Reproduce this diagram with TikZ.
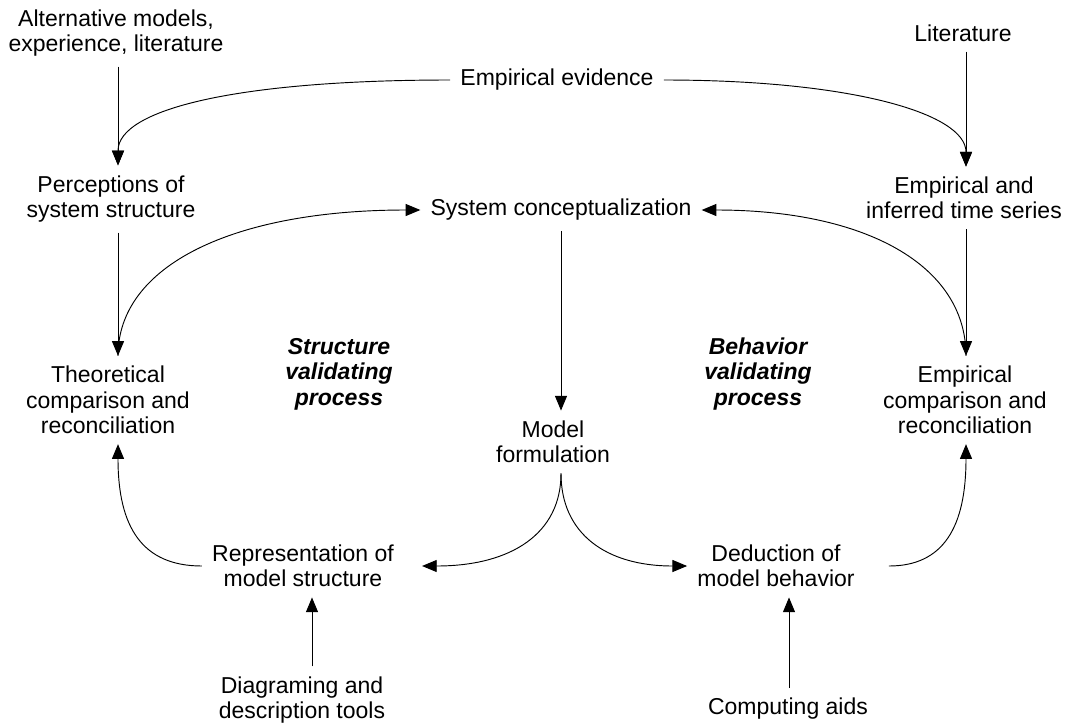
\documentclass[tikz,border=0pt]{standalone}
\usepackage{fontspec}
\setmainfont{Liberation Sans}
\usetikzlibrary{arrows.meta}

\begin{document}
\begin{tikzpicture}[x=0.75pt, y=0.75pt,
  txt/.style={align=center, inner sep=7.5pt, font=\fontsize{17.25pt}{19.1pt}\selectfont},
  bold/.style={txt, font=\fontsize{17.25pt}{19.1pt}\selectfont\bfseries\itshape},
  arr/.style={-{Triangle[length=11pt, width=9pt]}, line width=0.7pt}]
  \useasboundingbox (0,0) rectangle (1067,-725);
  \coordinate (colL) at (118,0);
  \coordinate (colR) at (966,0);
  \coordinate (colM) at (561,0);
  \coordinate (colD) at (312,0);
  \coordinate (colC) at (789,0);
  \node[txt] (alt) at (116,-33) {Alternative models,\\experience, literature};
  \node[txt] (lit) at (963,-33) {Literature};
  \node[txt] (emp) at (557,-80) {Empirical evidence};
  \node[txt] (perc) at (111,-199) {Perceptions of\\system structure};
  \node[txt] (sys) at (561,-210) {System conceptualization};
  \node[txt] (eits) at (964,-198) {Empirical and\\inferred time series};
  \node[txt] (theo) at (108,-400) {Theoretical\\comparison and\\reconciliation};
  \node[bold] (strv) at (339,-374) {Structure\\validating\\process};
  \node[bold] (behv) at (758,-374) {Behavior\\validating\\process};
  \node[txt] (ecr) at (965,-400) {Empirical\\comparison and\\reconciliation};
  \node[txt] (mf) at (553,-442) {Model\\formulation};
  \node[txt] (rep) at (303,-566) {Representation of\\model structure};
  \node[txt] (ded) at (776,-566) {Deduction of\\model behavior};
  \node[txt] (diag) at (302,-700) {Diagraming and\\description tools};
  \node[txt] (comp) at (788,-709) {Computing aids};
  \draw[arr] (alt.south -| colL) -- (perc.north -| colL);
  \draw[arr] (lit.south -| colR) -- (eits.north -| colR);
  \draw[arr] (emp.west) to[out=180, in=90, out distance=160pt, in distance=42pt] (perc.north -| colL);
  \draw[arr] (emp.east) to[out=0, in=90, out distance=140pt, in distance=40pt] (eits.north -| colR);
  \draw[arr] (perc.south -| colL) -- (theo.north -| colL);
  \draw[arr] (eits.south -| colR) -- (ecr.north -| colR);
  \draw[arr] (theo.north -| colL) to[out=90, in=180, out distance=68pt, in distance=140pt] (sys.west);
  \draw[arr] (ecr.north -| colR) to[out=90, in=0, out distance=68pt, in distance=123pt] (sys.east);
  \draw[arr] (sys.south -| colM) -- (mf.north -| colM);
  \draw[arr] (mf.south -| colM) to[out=-90, in=0, out distance=45pt, in distance=67pt] ([xshift=13.5pt]rep.east);
  \draw[arr] (mf.south -| colM) to[out=-90, in=180, out distance=45pt, in distance=61pt] (ded.west);
  \draw[arr] (rep.west) to[out=180, in=-90, out distance=45pt, in distance=62pt] (theo.south -| colL);
  \draw[arr] ([xshift=18pt]ded.east) to[out=0, in=-90, out distance=41pt, in distance=62pt] (ecr.south -| colR);
  \draw[arr] (diag.north -| colD) -- (rep.south -| colD);
  \draw[arr] (comp.north -| colC) -- (ded.south -| colC);
\end{tikzpicture}
\end{document}
